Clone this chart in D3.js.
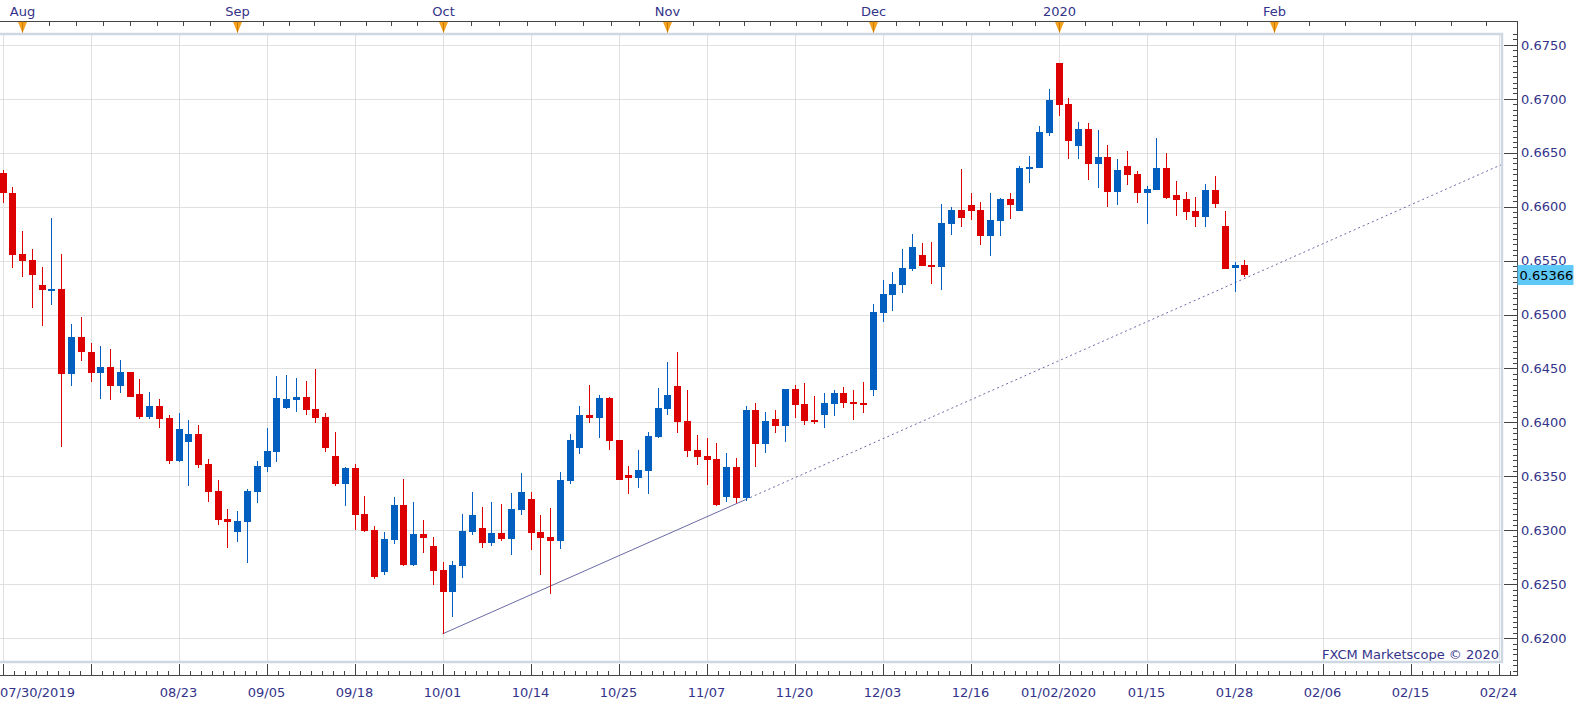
<!DOCTYPE html>
<html><head><meta charset="utf-8">
<script src="https://cdn.jsdelivr.net/npm/d3@7"></script>
<style>html,body{margin:0;padding:0;background:#fff;overflow:hidden}text{font-family:"DejaVu Sans",Verdana,sans-serif}</style>
</head><body><svg id="c" width="1583" height="705"></svg>
<script>
// ---------- DATA ----------
const dates = [
"07/30","07/31","08/01","08/02","08/05","08/06","08/07","08/08","08/09",
"08/12","08/13","08/14","08/15","08/16","08/19","08/20","08/21","08/22","08/23",
"08/26","08/27","08/28","08/29","08/30","09/02","09/03","09/04","09/05","09/06",
"09/09","09/10","09/11","09/12","09/13","09/16","09/17","09/18","09/19","09/20",
"09/23","09/24","09/25","09/26","09/27","09/30","10/01","10/02","10/03","10/04",
"10/07","10/08","10/09","10/10","10/11","10/14","10/15","10/16","10/17","10/18",
"10/21","10/22","10/23","10/24","10/25","10/28","10/29","10/30","10/31","11/01",
"11/04","11/05","11/06","11/07","11/08","11/11","11/12","11/13","11/14","11/15",
"11/18","11/19","11/20","11/21","11/22","11/25","11/26","11/27","11/28","11/29",
"12/02","12/03","12/04","12/05","12/06","12/09","12/10","12/11","12/12","12/13",
"12/16","12/17","12/18","12/19","12/20","12/23","12/26","12/27","12/30",
"01/02","01/03","01/06","01/07","01/08","01/09","01/10","01/13","01/14","01/15",
"01/16","01/17","01/20","01/21","01/22","01/23","01/24","01/27","01/28","01/29"];
const futureDates = ["01/30","01/31","02/01","02/02","02/03","02/04","02/05","02/06","02/07","02/08",
"02/09","02/10","02/11","02/12","02/13","02/14","02/15","02/16","02/17","02/18","02/19","02/20",
"02/21","02/22","02/23","02/24","02/25","02/26","02/27","02/28","02/29","03/01"];

const opens = [
0.66316,0.66130,0.65557,0.65501,0.65278,0.65225,0.65241,0.64445,0.64795,0.64655,
0.64454,0.64516,0.64342,0.64469,0.64265,0.64051,0.64153,0.64042,0.63645,0.63822,
0.63893,0.63614,0.63363,0.63103,0.62985,0.63078,0.63357,0.63589,0.63729,0.64138,
0.64212,0.64237,0.64125,0.64051,0.63689,0.63431,0.63577,0.63149,0.63001,0.62610,
0.62911,0.63233,0.62678,0.62964,0.62852,0.62629,0.62428,0.62669,0.62985,0.63019,
0.62883,0.62973,0.62920,0.63190,0.63289,0.62982,0.62942,0.62905,0.63458,0.63766,
0.64069,0.64041,0.64227,0.63837,0.63513,0.63488,0.63553,0.63865,0.64128,0.64338,
0.64014,0.63745,0.63692,0.63661,0.63309,0.63587,0.63303,0.64115,0.63800,0.64032,
0.63967,0.64310,0.64171,0.64023,0.64072,0.64174,0.64273,0.64193,0.64184,0.64304,
0.65018,0.65185,0.65277,0.65425,0.65552,0.65459,0.65444,0.65842,0.65969,0.66015,
0.65969,0.65731,0.65870,0.66071,0.65963,0.66352,0.66361,0.66686,0.67331,0.66951,
0.66565,0.66720,0.66395,0.66460,0.66139,0.66377,0.66303,0.66130,0.66157,0.66358,
0.66108,0.66071,0.65960,0.65907,0.66154,0.65821,0.65428,0.65459];
const highs = [
0.66337,0.66186,0.65770,0.65603,0.65445,0.65897,0.65563,0.64915,0.64980,0.64739,
0.64711,0.64683,0.64581,0.64469,0.64404,0.64283,0.64218,0.64066,0.64088,0.64023,
0.63977,0.63661,0.63466,0.63196,0.63177,0.63379,0.63642,0.63952,0.64432,0.64441,
0.64413,0.64386,0.64497,0.64088,0.63912,0.63583,0.63614,0.63317,0.63038,0.62982,
0.63308,0.63475,0.63261,0.63094,0.62936,0.62703,0.62713,0.63150,0.63354,0.63215,
0.63261,0.63242,0.63345,0.63531,0.63354,0.63140,0.63207,0.63541,0.63893,0.64152,
0.64347,0.64254,0.64236,0.63840,0.63597,0.63745,0.63912,0.64319,0.64560,0.64653,
0.64301,0.63884,0.63856,0.63810,0.63717,0.63671,0.64152,0.64180,0.64097,0.64115,
0.64310,0.64347,0.64366,0.64245,0.64276,0.64301,0.64329,0.64301,0.64375,0.65098,
0.65320,0.65395,0.65608,0.65747,0.65663,0.65673,0.66025,0.65997,0.66349,0.66127,
0.66043,0.66127,0.66080,0.66127,0.66377,0.66469,0.66748,0.67091,0.67331,0.67007,
0.66785,0.66775,0.66710,0.66571,0.66442,0.66516,0.66330,0.66191,0.66636,0.66497,
0.66238,0.66136,0.66086,0.66210,0.66284,0.65960,0.65484,0.65503];
const lows = [
0.66037,0.65430,0.65346,0.65058,0.64891,0.65086,0.63769,0.64342,0.64565,0.64379,
0.64221,0.64212,0.64277,0.64231,0.64036,0.64036,0.63952,0.63617,0.63636,0.63413,
0.63580,0.63264,0.63050,0.62836,0.62892,0.62697,0.63255,0.63543,0.63636,0.64125,
0.64101,0.64073,0.63998,0.63729,0.63413,0.63227,0.63004,0.62982,0.62548,0.62586,
0.62874,0.62666,0.62666,0.62790,0.62493,0.62040,0.62195,0.62558,0.62957,0.62837,
0.62855,0.62902,0.62772,0.63143,0.62815,0.62583,0.62410,0.62827,0.63430,0.63708,
0.63995,0.63859,0.63745,0.63467,0.63337,0.63396,0.63337,0.63853,0.64069,0.63905,
0.63683,0.63606,0.63420,0.63229,0.63263,0.63257,0.63275,0.63587,0.63717,0.63902,
0.63819,0.64041,0.63976,0.63986,0.63952,0.64063,0.64137,0.64026,0.64091,0.64249,
0.64931,0.65036,0.65203,0.65407,0.65453,0.65286,0.65231,0.65737,0.65815,0.65880,
0.65648,0.65546,0.65731,0.65889,0.65963,0.66222,0.66361,0.66658,0.66843,0.66445,
0.66445,0.66250,0.66173,0.65997,0.66015,0.66201,0.66037,0.65839,0.66157,0.66068,
0.65913,0.65876,0.65815,0.65815,0.65991,0.65425,0.65212,0.65351];
const closes = [
0.66130,0.65550,0.65495,0.65365,0.65225,0.65241,0.64445,0.64795,0.64649,0.64454,
0.64516,0.64342,0.64469,0.64240,0.64051,0.64153,0.64036,0.63645,0.63939,0.63893,
0.63608,0.63357,0.63094,0.63078,0.63084,0.63363,0.63596,0.63735,0.64228,0.64218,
0.64237,0.64119,0.64045,0.63766,0.63431,0.63577,0.63143,0.62995,0.62567,0.62917,
0.63233,0.62678,0.62964,0.62930,0.62623,0.62428,0.62676,0.62992,0.63140,0.62883,
0.62973,0.62920,0.63196,0.63354,0.62976,0.62930,0.62905,0.63467,0.63837,0.64069,
0.64041,0.64227,0.63831,0.63467,0.63488,0.63559,0.63874,0.64134,0.64254,0.64007,
0.63739,0.63683,0.63655,0.63238,0.63587,0.63303,0.64115,0.63800,0.64014,0.63967,
0.64310,0.64162,0.64014,0.64014,0.64180,0.64273,0.64184,0.64174,0.64174,0.65024,
0.65191,0.65283,0.65432,0.65626,0.65453,0.65444,0.65849,0.65969,0.65898,0.65963,
0.65731,0.65876,0.66071,0.66019,0.66358,0.66367,0.66692,0.66989,0.66945,0.66612,
0.66720,0.66398,0.66460,0.66139,0.66340,0.66296,0.66130,0.66164,0.66358,0.66080,
0.66065,0.65954,0.65907,0.66154,0.66028,0.65425,0.65459,0.65366];

const yTicks = [0.6200,0.6250,0.6300,0.6350,0.6400,0.6450,0.6500,0.6550,0.6600,0.6650,0.6700,0.6750];
const tickDates  = ["07/30","08/12","08/23","09/05","09/18","10/01","10/14","10/25","11/07","11/20","12/03","12/16","01/02","01/15","01/28","02/06","02/15","02/24"];
const tickLabels = ["07/30/2019","","08/23","09/05","09/18","10/01","10/14","10/25","11/07","11/20","12/03","12/16","01/02/2020","01/15","01/28","02/06","02/15","02/24"];
const monthDates  = ["08/01","09/02","10/01","11/01","12/02","01/02","02/01","03/01"];
const monthLabels = ["Aug","Sep","Oct","Nov","Dec","2020","Feb",""];
const lastPrice = 0.65366;
const trendDates  = ["10/01","11/13"];
const trendPrices = [0.6204, 0.63285];
const watermark = "FXCM Marketscope \u00A9 2020";

// ---------- LAYOUT ----------
const W = 1583, H = 705;
const plot = {l: -2, r: 1502, t: 34, b: 662};
const axisTop = 21.5, axisRight = 1517.5, axisBottom = 675.5;
const step = 9.778, x0 = 2.5;
const allDates = dates.concat(futureDates);
const x = d3.scalePoint().domain(allDates).range([x0, x0 + (allDates.length - 1) * step]);
const y = d3.scaleLinear().domain([0.62, 0.675]).range([638.2, 44.8]);
const idx = d3.scaleLinear().domain([0, allDates.length - 1]).range([x0, x0 + (allDates.length - 1) * step]);

const labelColor = "#33338a", axisColor = "#444", gridColor = "#e0e0e0";
const upColor = "#005fbf", downColor = "#dd0000";

const svg = d3.select("#c");
svg.append("rect").attr("width", W).attr("height", H).attr("fill", "#fff");
svg.append("clipPath").attr("id", "clip").append("rect")
  .attr("x", plot.l).attr("y", plot.t).attr("width", plot.r - plot.l).attr("height", plot.b - plot.t);

const g = svg.append("g").attr("clip-path", "url(#clip)");

// grid
g.selectAll(".hg").data(yTicks).join("line")
  .attr("x1", plot.l).attr("x2", plot.r)
  .attr("y1", d => Math.round(y(d)) + 0.5).attr("y2", d => Math.round(y(d)) + 0.5)
  .attr("stroke", gridColor).attr("stroke-width", 1);
g.selectAll(".vg").data(tickDates).join("line")
  .attr("x1", d => Math.round(x(d)) + 0.5).attr("x2", d => Math.round(x(d)) + 0.5)
  .attr("y1", plot.t).attr("y2", plot.b)
  .attr("stroke", gridColor).attr("stroke-width", 1);

// trend line
const tI = trendDates.map(d => allDates.indexOf(d));
const slope = (trendPrices[1] - trendPrices[0]) / (tI[1] - tI[0]);
const endI = allDates.length - 1;
const endP = trendPrices[0] + slope * (endI - tI[0]);
g.append("line")
  .attr("x1", x(trendDates[0])).attr("y1", y(trendPrices[0]))
  .attr("x2", x(trendDates[1])).attr("y2", y(trendPrices[1]))
  .attr("stroke", "#6a6aa6").attr("stroke-width", 1);
g.append("line")
  .attr("x1", x(trendDates[1])).attr("y1", y(trendPrices[1]))
  .attr("x2", idx(endI)).attr("y2", y(endP))
  .attr("stroke", "#6a6aa6").attr("stroke-width", 1).attr("stroke-dasharray", "2,3");

// candles
const candles = dates.map((d, i) => ({d, o: opens[i], h: highs[i], l: lows[i], c: closes[i]}));
const cg = g.append("g").attr("shape-rendering", "crispEdges");
cg.selectAll(".wick").data(candles).join("line")
  .attr("x1", d => Math.round(x(d.d)) + 0.5).attr("x2", d => Math.round(x(d.d)) + 0.5)
  .attr("y1", d => y(d.h)).attr("y2", d => y(d.l))
  .attr("stroke", d => d.c >= d.o ? upColor : downColor).attr("stroke-width", 1);
cg.selectAll(".body").data(candles).join("rect")
  .attr("x", d => Math.round(x(d.d)) - 3)
  .attr("width", 7)
  .attr("y", d => Math.min(y(d.o), y(d.c)))
  .attr("height", d => Math.max(2, Math.abs(y(d.o) - y(d.c))))
  .attr("fill", d => d.c >= d.o ? upColor : downColor);

// watermark
svg.append("text").attr("x", 1499).attr("y", 659).attr("text-anchor", "end")
  .attr("font-size", 13).attr("fill", labelColor).text(watermark);

// frame
svg.append("rect").attr("x", plot.l).attr("y", plot.t).attr("width", plot.r - plot.l).attr("height", plot.b - plot.t)
  .attr("fill", "none").attr("stroke", "#cdd8e3").attr("stroke-width", 2.5);

// axes lines
const ax = svg.append("g").attr("shape-rendering", "crispEdges").attr("stroke", axisColor).attr("stroke-width", 1);
ax.append("line").attr("x1", 0).attr("x2", axisRight).attr("y1", axisTop).attr("y2", axisTop);
ax.append("line").attr("x1", 0).attr("x2", axisRight).attr("y1", axisBottom).attr("y2", axisBottom);
ax.append("line").attr("x1", axisRight).attr("x2", axisRight).attr("y1", axisTop).attr("y2", axisBottom);

// right axis ticks
const minorY = d3.range(0, 120).map(k => 0.6165 + k * 0.0005).filter(v => y(v) > axisTop + 2 && y(v) < axisBottom - 1);
ax.selectAll(".ym").data(minorY).join("line")
  .attr("x1", axisRight - 5).attr("x2", axisRight)
  .attr("y1", d => Math.round(y(d)) + 0.5).attr("y2", d => Math.round(y(d)) + 0.5);
ax.selectAll(".yM").data(yTicks).join("line")
  .attr("x1", axisRight - 14).attr("x2", axisRight)
  .attr("y1", d => Math.round(y(d)) + 0.5).attr("y2", d => Math.round(y(d)) + 0.5);
svg.selectAll(".yl").data(yTicks).join("text")
  .attr("x", 1521).attr("y", d => y(d) + 4.8)
  .attr("font-size", 13).attr("fill", labelColor).text(d => d3.format(".4f")(d));

// bottom axis ticks
const xMajor = tickDates.map(d => x(d));
const minorX = [];
for (let i = 0; i < xMajor.length; i++) {
  const sp = 9 * step / 8;
  for (let k = 1; k < 8; k++) minorX.push(xMajor[i] + k * sp);
}
ax.selectAll(".xm").data(minorX.filter(v => v < axisRight - 2)).join("line")
  .attr("x1", d => Math.round(d) + 0.5).attr("x2", d => Math.round(d) + 0.5)
  .attr("y1", axisBottom - 5).attr("y2", axisBottom);
ax.selectAll(".xM").data(xMajor).join("line")
  .attr("x1", d => Math.round(d) + 0.5).attr("x2", d => Math.round(d) + 0.5)
  .attr("y1", axisBottom - 12).attr("y2", axisBottom);
svg.selectAll(".xl").data(tickDates).join("text")
  .attr("x", (d, i) => i === 0 ? 0 : x(d))
  .attr("y", 697)
  .attr("text-anchor", (d, i) => i === 0 ? "start" : "middle")
  .attr("font-size", 13).attr("fill", labelColor)
  .text((d, i) => tickLabels[i]);

// top axis: minor ticks (8 per month), month markers
const mX = monthDates.map(d => x(d));
const topMinor = [];
for (let i = 0; i < mX.length - 1; i++) {
  const sp = (mX[i + 1] - mX[i]) / 8;
  for (let k = 1; k < 8; k++) topMinor.push(mX[i] + k * sp);
}
ax.selectAll(".tm").data(topMinor.filter(v => v < axisRight - 2)).join("line")
  .attr("x1", d => Math.round(d) + 0.5).attr("x2", d => Math.round(d) + 0.5)
  .attr("y1", axisTop).attr("y2", axisTop + 4);

const mk = svg.append("g");
monthDates.forEach((d, i) => {
  if (!monthLabels[i]) return;
  const cx = Math.round(x(d)) + 0.5;
  mk.append("path")
    .attr("d", `M${cx - 4.5},${axisTop + 0.5} L${cx + 4.5},${axisTop + 0.5} L${cx},${axisTop + 11.5} Z`)
    .attr("fill", "#f6a21e");
  mk.append("line").attr("x1", cx).attr("x2", cx).attr("y1", axisTop).attr("y2", axisTop + 11)
    .attr("stroke", "#c87a00").attr("stroke-width", 1);
  mk.append("text").attr("x", cx).attr("y", 15.5).attr("text-anchor", "middle")
    .attr("font-size", 13).attr("fill", labelColor).text(monthLabels[i]);
});

// last price box
const ly = y(lastPrice);
svg.append("rect").attr("x", axisRight).attr("y", ly - 10).attr("width", 56).attr("height", 20)
  .attr("fill", "#5ec8f6");
svg.append("text").attr("x", axisRight + 2).attr("y", ly + 4.8)
  .attr("font-size", 13).attr("fill", "#000").text(d3.format(".5f")(lastPrice));
</script></body></html>
